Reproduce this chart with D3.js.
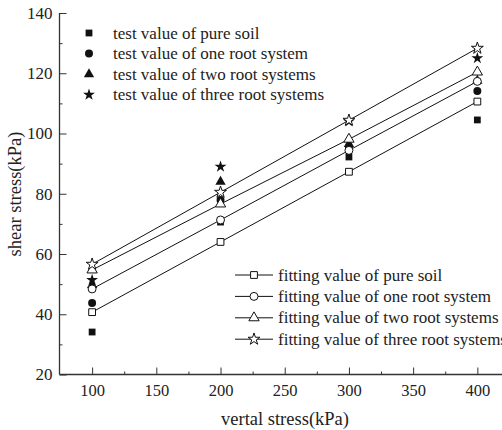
<!DOCTYPE html>
<html lang="en">
<head>
    <meta charset="UTF-8">
    <title>Shear stress vs vertical stress</title>
    <script src="https://d3js.org/d3.v7.min.js"></script>
    <style>
        body { margin: 0; background: #fff; }
        text { font-family: "Liberation Serif", "Times New Roman", serif; fill: #222; }
        .axis path, .axis line { stroke: #333; }
    </style>
</head>
<body>
    <div id="chart"></div>
    <script>
        // vertical stress levels (kPa)
        const stress = [100, 200, 300, 400];

        // test values (filled markers)
        const testPure  = [34.1, 70.6, 92.2, 104.5];
        const testOne   = [43.7, 77.9, 95.3, 114.1];
        const testTwo   = [49.7, 84.0, 96.5, 117.5];
        const testThree = [51.4, 89.0, 104.0, 125.0];

        // fitting values (open markers joined by lines)
        const fitPure  = [40.7, 64.0, 87.3, 110.6];
        const fitOne   = [48.4, 71.3, 94.4, 117.3];
        const fitTwo   = [54.7, 76.6, 98.1, 120.4];
        const fitThree = [56.6, 80.5, 104.4, 128.3];

        const testNames = ["test value of pure soil", "test value of one root system",
                           "test value of two root systems", "test value of three root systems"];
        const fitNames = ["fitting value of pure soil", "fitting value of one root system",
                          "fitting value of two root systems", "fitting value of three root systems"];

        const xTicks = [100, 150, 200, 250, 300, 350, 400];
        const yTicks = [20, 40, 60, 80, 100, 120, 140];

        const width = 502, height = 430;
        const svg = d3.select("#chart").append("svg")
            .attr("width", width).attr("height", height);

        const x = d3.scaleLinear().domain([74.6, 419.2]).range([59.5, 502]);
        const y = d3.scaleLinear().domain([20, 140]).range([374.5, 13]);

        const shapes = [d3.symbolSquare, d3.symbolCircle, d3.symbolTriangle, d3.symbolStar];
        const sizes = [46, 50, 46, 44];
        const sym = i => d3.symbol().type(shapes[i]).size(sizes[i])();

        // axes (ticks point inward)
        const xAxis = d3.axisBottom(x).tickValues(xTicks).tickSize(-7).tickPadding(10);
        svg.append("g").attr("class", "axis")
            .attr("transform", `translate(0,${y(20)})`)
            .call(xAxis)
            .call(g => g.select(".domain").attr("d", `M${x.range()[0]},0H${x.range()[1]}`).attr("stroke-width", 1.3))
            .call(g => g.selectAll("text").attr("font-size", 16.5).attr("fill", "#222"));
        svg.append("g").attr("class", "axis")
            .attr("transform", `translate(0,${y(20)})`)
            .call(d3.axisBottom(x).tickValues(d3.range(125, 420, 50)).tickSize(-3).tickFormat(""))
            .call(g => g.select(".domain").remove());

        const yAxis = d3.axisLeft(y).tickValues(yTicks).tickSize(-7).tickPadding(7);
        svg.append("g").attr("class", "axis")
            .attr("transform", `translate(${x.range()[0]},0)`)
            .call(yAxis)
            .call(g => g.select(".domain").attr("d", `M0,${y.range()[0]}V${y.range()[1]}`).attr("stroke-width", 1.3))
            .call(g => g.selectAll("text").attr("font-size", 17).attr("fill", "#222"));
        svg.append("g").attr("class", "axis")
            .attr("transform", `translate(${x.range()[0]},0)`)
            .call(d3.axisLeft(y).tickValues(d3.range(30, 140, 20)).tickSize(-3).tickFormat(""))
            .call(g => g.select(".domain").remove());

        svg.append("text")
            .attr("x", 285).attr("y", 425)
            .attr("text-anchor", "middle").attr("font-size", 18.5)
            .text("vertal stress(kPa)");
        svg.append("text")
            .attr("transform", "translate(21,194) rotate(-90)")
            .attr("text-anchor", "middle").attr("font-size", 18.5)
            .text("shear stress(kPa)");

        const tests = [testPure, testOne, testTwo, testThree];
        const fits = [fitPure, fitOne, fitTwo, fitThree];

        // test points
        tests.forEach((vals, i) => {
            svg.append("g").selectAll("path")
                .data(vals).join("path")
                .attr("d", sym(i))
                .attr("transform", (d, j) => `translate(${x(stress[j])},${y(d)})`)
                .attr("fill", "#111");
        });

        // fitting lines and open markers
        const line = d3.line().x((d, j) => x(stress[j])).y(d => y(d));
        fits.forEach((vals, i) => {
            svg.append("path").datum(vals)
                .attr("d", line).attr("fill", "none")
                .attr("stroke", "#111").attr("stroke-width", 1);
        });
        fits.forEach((vals, i) => {
            svg.append("g").selectAll("path")
                .data(vals).join("path")
                .attr("d", sym(i))
                .attr("transform", (d, j) => `translate(${x(stress[j])},${y(d)})`)
                .attr("fill", "#fff").attr("stroke", "#111").attr("stroke-width", 1);
        });

        // legend for test values
        const leg1 = svg.append("g");
        testNames.forEach((name, i) => {
            const yy = 33 + i * 20.6;
            leg1.append("path").attr("d", sym(i))
                .attr("transform", `translate(89,${yy})`).attr("fill", "#111");
            leg1.append("text").attr("x", 113).attr("y", yy).attr("dy", "0.33em")
                .attr("font-size", 17).text(name);
        });

        // legend for fitting values
        const leg2 = svg.append("g");
        fitNames.forEach((name, i) => {
            const yy = 275 + i * 21.4;
            leg2.append("line").attr("x1", 235).attr("x2", 273)
                .attr("y1", yy).attr("y2", yy).attr("stroke", "#111");
            leg2.append("path").attr("d", sym(i))
                .attr("transform", `translate(254,${yy})`)
                .attr("fill", "#fff").attr("stroke", "#111");
            leg2.append("text").attr("x", 278).attr("y", yy).attr("dy", "0.33em")
                .attr("font-size", 17).text(name);
        });
    </script>
</body>
</html>
